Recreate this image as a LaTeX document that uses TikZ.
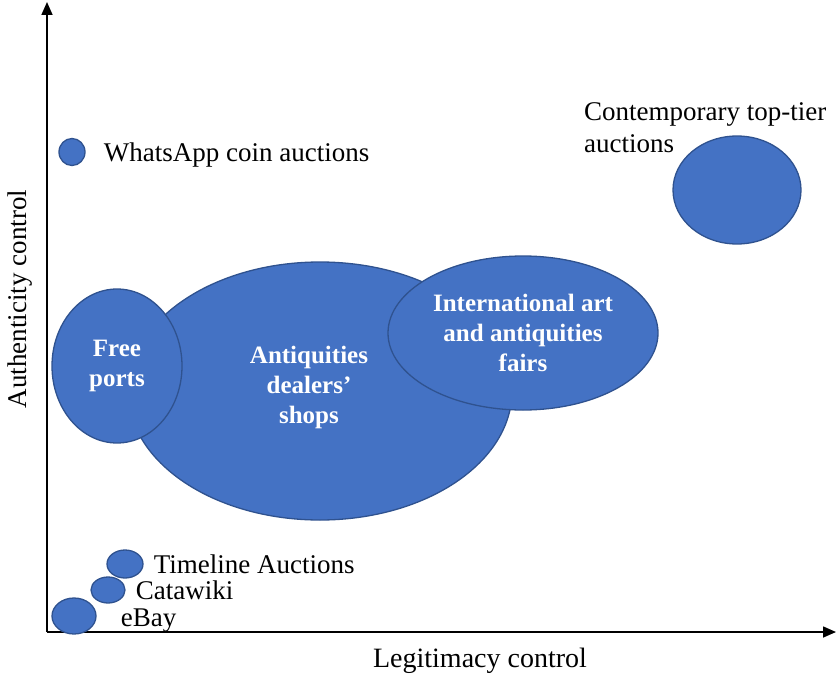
\documentclass[tikz,border=0pt]{standalone}
\usepackage{fontspec}
\setmainfont{Liberation Serif}
\usetikzlibrary{shapes.geometric,positioning,arrows.meta}
\definecolor{bubblefill}{HTML}{4472C4}
\definecolor{bubbleline}{HTML}{2F528F}

\begin{document}
\begin{tikzpicture}[x=1pt,y=-1pt,>={Triangle[length=13pt,width=11pt]},
    bubble/.style={ellipse,draw=bubbleline,fill=bubblefill,line width=1.3pt,inner sep=0pt},
    inside/.style={text=white,align=center,font=\fontsize{25}{30}\selectfont\bfseries},
    tag/.style={inner sep=0pt,font=\fontsize{27}{32}\selectfont},
    axis/.style={line width=1.6pt}]
  \useasboundingbox (0,0) rectangle (837,677);
  % axes
  \coordinate (origin) at (47,632);
  \coordinate (ytop) at (47,2);
  \coordinate (xend) at (836,632);
  \draw[axis,->] (origin) -- (ytop);
  \draw[axis,->] (origin) -- (xend);
  \node[tag,rotate=90] (ylabel) at (20,299) {Authenticity control};
  \node[tag,font=\fontsize{28}{32}\selectfont] (xlabel) at (480,661) {Legitimacy control};
  % big bubbles
  \node[bubble,minimum width=384pt,minimum height=258pt] (shops) at (320,391) {};
  \node[inside] (shops text) at (309,387) {Antiquities\\dealers'\\shops};
  \node[bubble,minimum width=130pt,minimum height=154pt,inside] (ports) at (117,366) {Free\\ports};
  \node[bubble,minimum width=270pt,minimum height=154pt,inside] (fairs) at (523,333) {International art\\and antiquities\\fairs};
  \node[bubble,minimum width=128pt,minimum height=108pt] (toptier) at (737,190) {};
  \node[tag,anchor=west,align=left] (toptier label) at (584,128) {Contemporary top-tier\\auctions};
  % small bubbles
  \node[bubble,minimum width=26pt,minimum height=27pt] (whatsapp) at (72,152) {};
  \node[tag,anchor=west] (whatsapp label) [right=18pt of whatsapp,yshift=-3pt] {WhatsApp coin auctions};
  \node[bubble,minimum width=36pt,minimum height=28pt] (timeline) at (125,564) {};
  \node[tag,anchor=west] (timeline label) [right=10pt of timeline] {Timeline Auctions};
  \node[bubble,minimum width=34pt,minimum height=26pt] (catawiki) at (108,590) {};
  \node[tag,anchor=west] (catawiki label) [right=10pt of catawiki] {Catawiki};
  \node[bubble,minimum width=44pt,minimum height=36pt] (ebay) at (74,616) {};
  \node[tag,anchor=west] (ebay label) [right=24pt of ebay,yshift=-5pt] {eBay};
\end{tikzpicture}
\end{document}
